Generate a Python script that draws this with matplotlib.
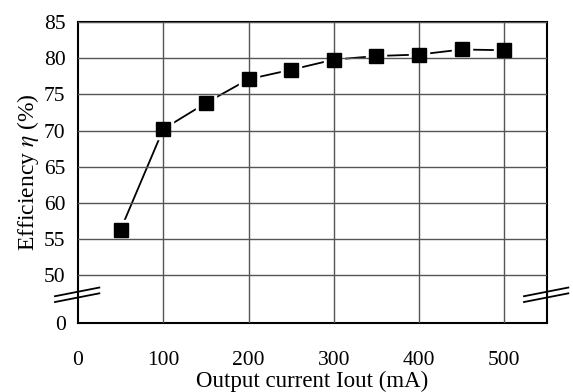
import numpy as np
import matplotlib.pyplot as plt

# Data
current_ma = [50, 100, 150, 200, 250, 300, 350, 400, 450, 500]
efficiency = [56.3, 70.2, 73.8, 77.1, 78.4, 79.8, 80.3, 80.5, 81.2, 81.1]
x_ticks = [0, 100, 200, 300, 400, 500]
y_ticks = [50, 55, 60, 65, 70, 75, 80, 85]

# where the "0" label sits on the broken axis
ZERO_POS = 43.4
BREAK_POS = 47.3

plt.rcParams['font.family'] = ['Liberation Serif', 'DejaVu Serif']
plt.rcParams['mathtext.fontset'] = 'stix'

fig = plt.figure(figsize=(5.73, 3.92), dpi=100)
ax = fig.add_axes([78 / 573, 69 / 392, 469 / 573, 301 / 392])

ax.plot(current_ma, efficiency, color='black', lw=1.3, zorder=2)
# white halo so the line stops short of each marker
ax.plot(current_ma, efficiency, ls='none', marker='s', ms=14.5,
        mfc='white', mec='white', zorder=2.3)
ax.plot(current_ma, efficiency, ls='none', marker='s', ms=9.5,
        mfc='black', mec='black', zorder=3)

ax.set_xlim(0, 550)
ax.set_ylim(ZERO_POS, 85)
ax.set_xticks(x_ticks)
ax.set_yticks([ZERO_POS] + y_ticks)
ax.set_yticklabels(['0'] + [str(v) for v in y_ticks])

ax.set_axisbelow(False)
ax.grid(True, color='#555555', lw=1.0)
# no grid line on the "0" tick (it is the spine)
ax.yaxis.get_gridlines()[0].set_visible(False)
ax.xaxis.get_gridlines()[0].set_visible(False)

ax.tick_params(axis='both', length=0, labelsize=15.5)
ax.tick_params(axis='x', pad=20)
ax.tick_params(axis='y', pad=9)
for sp in ax.spines.values():
    sp.set_linewidth(1.5)

ax.set_xlabel('Output current Iout (mA)', fontsize=16.5, labelpad=1)
ax.set_ylabel(r'Efficiency $\eta$ (%)', fontsize=17, labelpad=2)

# axis break marks on both sides
for xc in (0, 550):
    for off in (-0.4, 0.4):
        ax.plot([xc - 27, xc + 25], [BREAK_POS + off - 0.6, BREAK_POS + off + 0.6],
                color='black', lw=1.3, clip_on=False, zorder=4)

fig.savefig('out.png', dpi=100)
